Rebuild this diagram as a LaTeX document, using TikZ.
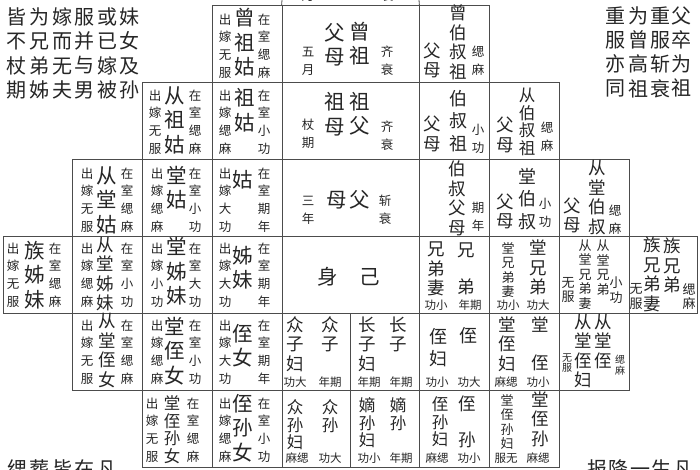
\documentclass[tikz,border=0pt]{standalone}
\usepackage{fontspec}
\newfontfamily\cjk{Noto Sans CJK SC}
\usepackage{tikz}

\begin{document}
\begin{tikzpicture}[x=1pt,y=-1pt,color=black!85,
    cell/.style={draw=black!70,line width=0.8pt,minimum width=70pt,minimum height=77pt,inner sep=0pt},
    wide/.style={cell,minimum width=137pt},
    sm/.style={font=\cjk\fontsize{12.5}{17.8}\selectfont,align=center,inner sep=0pt},
    lab/.style={font=\cjk\fontsize{11.5}{12}\selectfont,inner sep=0pt},
    bg/.style={font=\cjk\fontsize{20.5}{24.5}\selectfont,align=center,inner sep=0pt},
    md/.style={font=\cjk\fontsize{17.5}{19.5}\selectfont,align=center,inner sep=0pt},
    mdl/.style={font=\cjk\fontsize{18}{22.5}\selectfont,align=center,inner sep=0pt},
    mdt/.style={font=\cjk\fontsize{16.5}{17.5}\selectfont,align=center,inner sep=0pt},
    tn/.style={font=\cjk\fontsize{13}{14.5}\selectfont,align=center,inner sep=0pt},
    xs/.style={font=\cjk\fontsize{10}{10.5}\selectfont,align=center,inner sep=0pt},
    note/.style={font=\cjk\fontsize{20}{24.3}\selectfont,align=center,inner sep=0pt}]

\useasboundingbox (0,0) rectangle (700,470);
\clip (0,0) rectangle (700,470);
\fill[white] (0,0) rectangle (700,470);

% cells
\node[cell] (zzg) at (247,44) {};
\node[wide] (zzfm) at (350.5,44) {};
\node[cell] (zbsz) at (454,44) {};

\node[cell] (czg) at (177,121) {};
\node[cell] (zg) at (247,121) {};
\node[wide] (zfm) at (350.5,121) {};
\node[cell] (bsz) at (454,121) {};
\node[cell] (cbsz) at (524,121) {};

\node[cell] (ctg) at (107,198) {};
\node[cell] (tg) at (177,198) {};
\node[cell] (g) at (247,198) {};
\node[wide] (fm) at (350.5,198) {};
\node[cell] (bsfm) at (454,198) {};
\node[cell] (tbsfm) at (524,198) {};
\node[cell] (ctbsfm) at (594,198) {};

\node[cell,minimum width=69pt] (zzm) at (37.5,275) {};
\node[cell] (ctzm) at (107,275) {};
\node[cell] (tzm) at (177,275) {};
\node[cell] (zm) at (247,275) {};
\node[wide] (sj) at (350.5,275) {};
\node[cell] (xd) at (454,275) {};
\node[cell] (txd) at (524,275) {};
\node[cell] (ctxd) at (594,275) {};
\node[cell,minimum width=68pt] (zxd) at (663,275) {};

\node[cell] (ctzn) at (107,352) {};
\node[cell] (tzn) at (177,352) {};
\node[cell] (zn) at (247,352) {};
\node[cell,minimum width=68pt] (zz) at (316,352) {};
\node[cell,minimum width=69pt] (cz) at (384.5,352) {};
\node[cell] (zhi) at (454,352) {};
\node[cell] (tzhi) at (524,352) {};
\node[cell] (ctzhi) at (594,352) {};

\node[cell] (tzsn) at (177,429) {};
\node[cell] (zsn) at (247,429) {};
\node[cell,minimum width=68pt] (zs) at (316,429) {};
\node[cell,minimum width=69pt] (ds) at (384.5,429) {};
\node[cell] (zhis) at (454,429) {};
\node[cell] (tzhis) at (524,429) {};

% cell above, cut off
\coordinate (gz-a) at (282,0);
\coordinate (gz-b) at (419,0);
\draw[draw=black!70,line width=0.8pt] (zzfm.north west) -- (gz-a);
\draw[draw=black!70,line width=0.8pt] (zzfm.north east) -- (gz-b);
\node[sm] (gz-l) at (308,-4) {月};
\node[sm] (gz-r) at (387,-4) {衰};

% row 0
\node[sm] (zzg-l) at (225,46) {出\\嫁\\无\\服};
\node[bg] (zzg-c) at (245,42.5) {曾\\祖\\姑};
\node[sm] (zzg-r) at (264,46) {在\\室\\缌\\麻};
\node[bg] (zzfm-r) at (360,43.5) {曾\\祖};
\node[bg] (zzfm-c) at (335,45) {父\\母};
\node[sm] (zzfm-l) at (308,61) {五\\月};
\node[sm] (zzfm-x) at (387,61) {齐\\衰};
\node[md] (zbsz-c) at (458,42.5) {曾\\伯\\叔\\祖};
\node[md] (zbsz-l) at (432,60.5) {父\\母};
\node[sm] (zbsz-r) at (478,61) {缌\\麻};

% row 1
\node[sm] (czg-l) at (155,122) {出\\嫁\\无\\服};
\node[bg] (czg-c) at (175,120) {从\\祖\\姑};
\node[sm] (czg-r) at (195,122) {在\\室\\缌\\麻};
\node[sm] (zg-l) at (225,122) {出\\嫁\\缌\\麻};
\node[bg] (zg-c) at (245,110) {祖\\姑};
\node[sm] (zg-r) at (264,122) {在\\室\\小\\功};
\node[bg] (zfm-r) at (360,114) {祖\\父};
\node[bg] (zfm-c) at (335,114) {祖\\母};
\node[sm] (zfm-l) at (308,134) {杖\\期};
\node[sm] (zfm-x) at (387,136) {齐\\衰};
\node[mdl] (bsz-c) at (458,121) {伯\\叔\\祖};
\node[md] (bsz-l) at (432,134) {父\\母};
\node[sm] (bsz-r) at (478,138.5) {小\\功};
\node[mdt] (cbsz-c) at (527,122) {从\\伯\\叔\\祖};
\node[md] (cbsz-l) at (505,135) {父\\母};
\node[sm] (cbsz-r) at (547,136.5) {缌\\麻};

% row 2
\node[sm] (ctg-l) at (87,200) {出\\嫁\\无\\服};
\node[bg] (ctg-c) at (107,200) {从\\堂\\姑};
\node[sm] (ctg-r) at (127,200) {在\\室\\缌\\麻};
\node[sm] (tg-l) at (157,200) {出\\嫁\\缌\\麻};
\node[bg] (tg-c) at (177,187.5) {堂\\姑};
\node[sm] (tg-r) at (195,200) {在\\室\\小\\功};
\node[sm] (g-l) at (225,200) {出\\嫁\\大\\功};
\node[bg] (g-c) at (243,180) {姑};
\node[sm] (g-r) at (264,200) {在\\室\\期\\年};
\node[bg] (fm-f) at (360,200) {父};
\node[bg] (fm-m) at (337,200) {母};
\node[sm] (fm-l) at (308,210) {三\\年};
\node[sm] (fm-r) at (385,210) {斩\\衰};
\node[md] (bsfm-c) at (457,198.5) {伯\\叔\\父\\母};
\node[sm] (bsfm-r) at (478,216.5) {期\\年};
\node[mdl] (tbsfm-c) at (527,199) {堂\\伯\\叔};
\node[md] (tbsfm-l) at (505,211.5) {父\\母};
\node[sm] (tbsfm-r) at (545,213) {小\\功};
\node[md] (ctbsfm-c) at (597,197.5) {从\\堂\\伯\\叔};
\node[md] (ctbsfm-l) at (572,215.5) {父\\母};
\node[sm] (ctbsfm-r) at (615,220) {缌\\麻};

% row 3
\node[sm] (zzm-l) at (13,275) {出\\嫁\\无\\服};
\node[bg] (zzm-c) at (35,275) {族\\姊\\妹};
\node[sm] (zzm-r) at (55,275) {在\\室\\缌\\麻};
\node[sm] (ctzm-l) at (87,275) {出\\嫁\\缌\\麻};
\node[md] (ctzm-c) at (105,274) {从\\堂\\姊\\妹};
\node[sm] (ctzm-r) at (127,275) {在\\室\\小\\功};
\node[sm] (tzm-l) at (157,275) {出\\嫁\\小\\功};
\node[bg] (tzm-c) at (177,271.5) {堂\\姊\\妹};
\node[sm] (tzm-r) at (195,275) {在\\室\\大\\功};
\node[sm] (zm-l) at (225,275) {出\\嫁\\大\\功};
\node[bg] (zm-c) at (243,267.5) {姊\\妹};
\node[sm] (zm-r) at (264,275) {在\\室\\期\\年};
\node[bg] (sj-s) at (328,277) {身};
\node[bg] (sj-j) at (370,277) {己};
\node[md] (xd-q) at (436,269) {兄\\弟\\妻};
\node[md] (xd-x) at (466,250) {兄};
\node[md] (xd-d) at (466,287) {弟};
\node[lab] (xd-l) at (436,305) {功小};
\node[lab] (xd-r) at (470,305) {年期};
\node[tn] (txd-q) at (508,270) {堂\\兄\\弟\\妻};
\node[md] (txd-c) at (538,267.5) {堂\\兄\\弟};
\node[lab] (txd-l) at (508,305) {功小};
\node[lab] (txd-r) at (538,305) {功大};
\node[tn] (ctxd-q) at (585,274.5) {从\\堂\\兄\\弟\\妻};
\node[tn] (ctxd-c) at (603,267.5) {从\\堂\\兄\\弟};
\node[tn] (ctxd-l) at (568,290) {无\\服};
\node[tn] (ctxd-r) at (616,290) {小\\功};
\node[md] (zxd-q) at (652,274.5) {族\\兄\\弟\\妻};
\node[md] (zxd-c) at (672,265.5) {族\\兄\\弟};
\node[tn] (zxd-l) at (636,296.5) {无\\服};
\node[tn] (zxd-r) at (689,296.5) {缌\\麻};

% row 4
\node[sm] (ctzn-l) at (87,352) {出\\嫁\\无\\服};
\node[md] (ctzn-c) at (107,350.5) {从\\堂\\侄\\女};
\node[sm] (ctzn-r) at (127,352) {在\\室\\缌\\麻};
\node[sm] (tzn-l) at (157,352) {出\\嫁\\缌\\麻};
\node[bg] (tzn-c) at (175,351) {堂\\侄\\女};
\node[sm] (tzn-r) at (195,352) {在\\室\\小\\功};
\node[sm] (zn-l) at (225,352) {出\\嫁\\大\\功};
\node[bg] (zn-c) at (243,345.5) {侄\\女};
\node[sm] (zn-r) at (264,352) {在\\室\\期\\年};
\node[md] (zz-q) at (295,344) {众\\子\\妇};
\node[md] (zz-c) at (330,334.5) {众\\子};
\node[lab] (zz-l) at (295,382) {功大};
\node[lab] (zz-r) at (330,382) {年期};
\node[md] (cz-q) at (367,344) {长\\子\\妇};
\node[md] (cz-c) at (398,334.5) {长\\子};
\node[lab] (cz-l) at (369,382) {年期};
\node[lab] (cz-r) at (401,382) {年期};
\node[mdl] (zhi-q) at (438,347.5) {侄\\妇};
\node[mdl] (zhi-c) at (468,336) {侄};
\node[lab] (zhi-l) at (437,382) {功小};
\node[lab] (zhi-r) at (469,382) {功大};
\node[md] (tzhi-q) at (507,344) {堂\\侄\\妇};
\node[md] (tzhi-t) at (540,325) {堂};
\node[md] (tzhi-z) at (540,363) {侄};
\node[lab] (tzhi-l) at (506,382) {麻缌};
\node[lab] (tzhi-r) at (538,382) {功小};
\node[md] (ctzhi-q) at (583,351) {从\\堂\\侄\\妇};
\node[md] (ctzhi-c) at (603,341.5) {从\\堂\\侄};
\node[xs] (ctzhi-l) at (567,363) {无\\服};
\node[xs] (ctzhi-r) at (620,365) {缌\\麻};

% row 5
\node[sm] (tzsn-l) at (152,430) {出\\嫁\\无\\服};
\node[mdt] (tzsn-c) at (172,429.5) {堂\\侄\\孙\\女};
\node[sm] (tzsn-r) at (193,430) {在\\室\\缌\\麻};
\node[sm] (zsn-l) at (225,430) {出\\嫁\\缌\\麻};
\node[bg] (zsn-c) at (243,428) {侄\\孙\\女};
\node[sm] (zsn-r) at (264,430) {在\\室\\小\\功};
\node[mdt] (zs-q) at (295,425) {众\\孙\\妇};
\node[mdt] (zs-c) at (330,416) {众\\孙};
\node[lab] (zs-l) at (297,458) {麻缌};
\node[lab] (zs-r) at (330,458) {功大};
\node[mdt] (ds-q) at (367,423) {嫡\\孙\\妇};
\node[mdt] (ds-c) at (398,414) {嫡\\孙};
\node[lab] (ds-l) at (369,458) {功小};
\node[lab] (ds-r) at (401,458) {年期};
\node[mdt] (zhis-q) at (440,422) {侄\\孙\\妇};
\node[md] (zhis-z) at (467,404) {侄};
\node[md] (zhis-s) at (467,440) {孙};
\node[lab] (zhis-l) at (437,458) {麻缌};
\node[lab] (zhis-r) at (469,458) {功小};
\node[tn] (tzhis-q) at (507,422) {堂\\侄\\孙\\妇};
\node[md] (tzhis-c) at (540,419) {堂\\侄\\孙};
\node[lab] (tzhis-l) at (506,458) {服无};
\node[lab] (tzhis-r) at (538,458) {麻缌};

% notes in the margins
\node[note] (ln1) at (129,53.5) {妹\\女\\及\\孙};
\node[note] (ln2) at (107,53.5) {或\\已\\嫁\\被};
\node[note] (ln3) at (84,53.5) {服\\并\\与\\男};
\node[note] (ln4) at (62,53.5) {嫁\\而\\无\\夫};
\node[note] (ln5) at (39,53.5) {为\\兄\\弟\\姊};
\node[note] (ln6) at (16,53.5) {皆\\不\\杖\\期};

\node[note] (rn1) at (681,52) {父\\卒\\为\\祖};
\node[note] (rn2) at (660,52) {重\\服\\斩\\衰};
\node[note] (rn3) at (638,52) {为\\曾\\高\\祖};
\node[note] (rn4) at (615,52) {重\\服\\亦\\同};

\node[note] (lb) at (62,469) {缌\kern2.5pt 葬\kern2.5pt 皆\kern2.5pt 在\kern2.5pt 凡};
\node[note] (rb) at (640,469) {报\kern1.5pt 降\kern1.5pt 一\kern1.5pt 生\kern1.5pt 凡};

\end{tikzpicture}
\end{document}
